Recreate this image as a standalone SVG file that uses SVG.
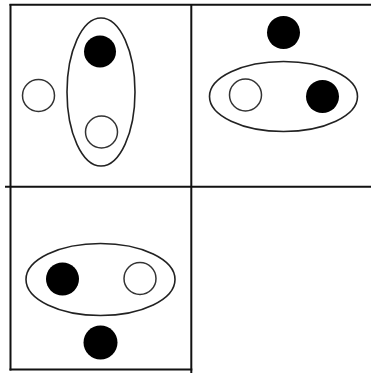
<svg xmlns="http://www.w3.org/2000/svg" width="371" height="374" viewBox="0 0 371 374">
<style>
.grid{stroke:#111;stroke-width:2;fill:none}
.ell{stroke:#222;stroke-width:1.6;fill:none}
.wc{stroke:#333;stroke-width:1.5;fill:#fff}
.bc{fill:#000}
</style>
<rect width="371" height="374" fill="#fff"/>
<g id="grid" class="grid">
<line x1="9.5" y1="4.8" x2="371" y2="4.8"/>
<line x1="5" y1="186.7" x2="371" y2="186.7"/>
<line x1="9.5" y1="369.6" x2="192.3" y2="369.6"/>
<line x1="10.5" y1="4" x2="10.5" y2="370.5"/>
<line x1="191.3" y1="4" x2="191.3" y2="373"/>
</g>
<g id="cell1">
<ellipse class="ell" cx="101" cy="92" rx="34" ry="74"/>
<circle class="bc" cx="100" cy="51.5" r="16"/>
<circle class="wc" cx="101.5" cy="132" r="16"/>
<circle class="wc" cx="38.5" cy="95.5" r="16"/>
</g>
<g id="cell2">
<circle class="bc" cx="283.5" cy="32.5" r="16.5"/>
<ellipse class="ell" cx="283.5" cy="96.5" rx="74" ry="35"/>
<circle class="wc" cx="245.5" cy="95" r="16"/>
<circle class="bc" cx="322.5" cy="96.5" r="16.5"/>
</g>
<g id="cell3">
<ellipse class="ell" cx="100.5" cy="279.5" rx="74.5" ry="36"/>
<circle class="bc" cx="62.5" cy="279" r="16.5"/>
<circle class="wc" cx="140" cy="278.5" r="16"/>
<circle class="bc" cx="100.5" cy="342.5" r="17"/>
</g>
</svg>
